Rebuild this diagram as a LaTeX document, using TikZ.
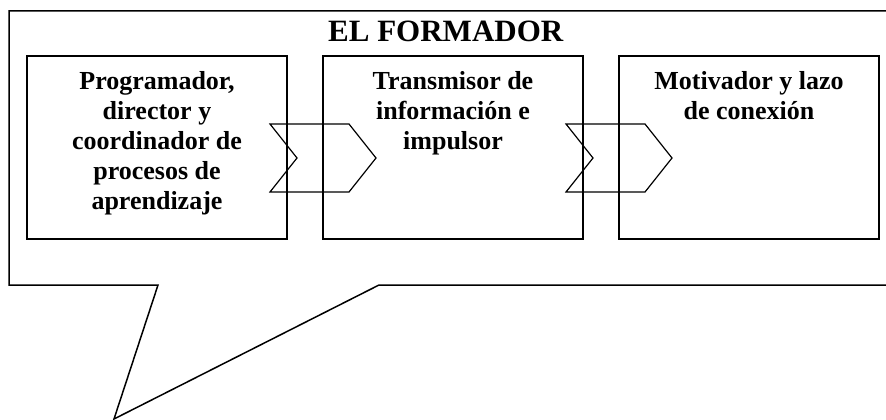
\documentclass[tikz,border=0pt]{standalone}
\usepackage{fontspec}
\setmainfont{Liberation Serif}
\usetikzlibrary{positioning}

\tikzset{
  rol/.style={draw, line width=1.1pt, minimum width=260pt, minimum height=183pt, inner sep=0pt},
  roltext/.style={font=\bfseries\fontsize{26}{30}\selectfont, align=center, inner sep=0pt, anchor=north},
  chevron/.style={draw, line width=1.2pt},
  globo/.style={draw, line width=1.5pt, line join=miter}
}

\begin{document}
\begin{tikzpicture}[x=1pt,y=-1pt]
  \useasboundingbox (0,0) rectangle (886,420);
  % Globo de diálogo
  \draw[globo] (892,11) -- (9,11) -- (9,285) -- (158,285) -- (114,419) -- (379,285) -- (892,285);
  % Título
  \node[font=\bfseries\fontsize{31}{36}\selectfont, anchor=base west, inner sep=0pt] (titulo) at (328,42) {EL FORMADOR};
  % Cajas de roles
  \node[rol] (programador) at (157,147.5) {};
  \node[rol] (transmisor) at (453,147.5) {};
  \node[rol] (motivador) at (749,147.5) {};
  % Textos
  \node[roltext] (tprog) at ([yshift=-16pt]programador.north) {Programador,\\director y\\coordinador de\\procesos de\\aprendizaje};
  \node[roltext] (ttrans) at ([yshift=-16pt]transmisor.north) {Transmisor de\\información e\\impulsor};
  \node[roltext] (tmotiv) at ([yshift=-16pt]motivador.north) {Motivador y lazo\\de conexión};
  % Flechas entre cajas
  \foreach \x in {270,566} {
    \draw[chevron] (\x,124) -- (\x+79,124) -- (\x+106,158) -- (\x+79,192) -- (\x,192) -- (\x+27,158) -- cycle;
  }
\end{tikzpicture}
\end{document}
